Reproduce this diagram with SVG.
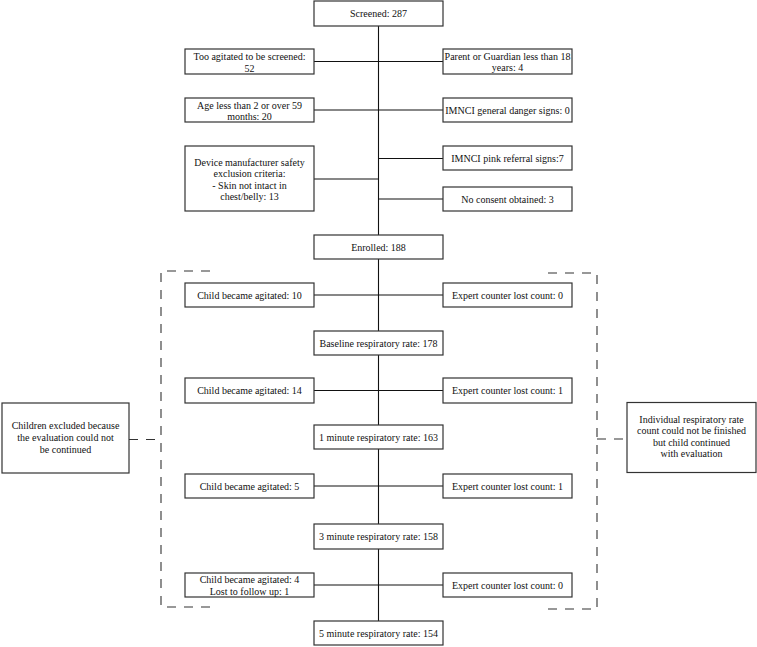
<svg xmlns="http://www.w3.org/2000/svg" width="757" height="647" viewBox="0 0 757 647">
<style>
.b{fill:#fff;stroke:#333;stroke-width:1.2}
.t{font-family:"Liberation Serif","Times New Roman",serif;font-size:10px;fill:#111;text-anchor:middle}
.c{stroke:#111;stroke-width:1.1;fill:none}
.d{stroke:#333;stroke-width:1.1;fill:none;stroke-dasharray:9 8}
</style>
<rect width="757" height="647" fill="#fff"/>
<g id="connectors">
<path class="c" d="M378.5 26V235M378.5 259V331M378.5 355V425M378.5 449V524M378.5 549V621"/>
<path class="c" d="M314 61.5H443M314 110H443M314 179H378.5M378.5 158.5H443M378.5 199H443"/>
<path class="c" d="M314 295H443M314 390.5H443M314 486H443M314 585H443"/>
<path class="d" d="M210 271H161V607H210"/>
<path class="d" d="M548 273H597V609H548"/>
<path class="d" d="M129 439.5H161M597 439H627"/>
</g>
<g id="screened"><rect class="b" x="314" y="1" width="129" height="25"/><text class="t" x="378.5" y="17">Screened: 287</text></g>
<g id="too-agitated"><rect class="b" x="185" y="49" width="129" height="25"/><text class="t" x="249.5" y="60">Too agitated to be screened:</text><text class="t" x="249.5" y="71.5">52</text></g>
<g id="parent"><rect class="b" x="443" y="49" width="129" height="25"/><text class="t" x="507.5" y="59.5">Parent or Guardian less than 18</text><text class="t" x="507.5" y="71">years: 4</text></g>
<g id="age"><rect class="b" x="185" y="98" width="129" height="24"/><text class="t" x="249.5" y="108.5">Age less than 2 or over 59</text><text class="t" x="249.5" y="120">months: 20</text></g>
<g id="imnci-general"><rect class="b" x="443" y="98" width="129" height="24"/><text class="t" x="507.5" y="113.5">IMNCI general danger signs: 0</text></g>
<g id="device"><rect class="b" x="185" y="146" width="129" height="65"/><text class="t" x="249.5" y="165.5">Device manufacturer safety</text><text class="t" x="249.5" y="177">exclusion criteria:</text><text class="t" x="249.5" y="188.5">- Skin not intact in</text><text class="t" x="249.5" y="200">chest/belly: 13</text></g>
<g id="imnci-pink"><rect class="b" x="443" y="146" width="129" height="24"/><text class="t" x="507.5" y="161.5">IMNCI pink referral signs:7</text></g>
<g id="no-consent"><rect class="b" x="443" y="187" width="129" height="24"/><text class="t" x="507.5" y="202.5">No consent obtained: 3</text></g>
<g id="enrolled"><rect class="b" x="314" y="235" width="129" height="24"/><text class="t" x="378.5" y="250.5">Enrolled: 188</text></g>
<g id="agitated-1"><rect class="b" x="185" y="283" width="129" height="24"/><text class="t" x="249.5" y="298.5">Child became agitated: 10</text></g>
<g id="lost-1"><rect class="b" x="443" y="283" width="129" height="24"/><text class="t" x="507.5" y="298.5">Expert counter lost count: 0</text></g>
<g id="baseline"><rect class="b" x="314" y="331" width="129" height="24"/><text class="t" x="378.5" y="346.5">Baseline respiratory rate: 178</text></g>
<g id="agitated-2"><rect class="b" x="185" y="378" width="129" height="25"/><text class="t" x="249.5" y="394">Child became agitated: 14</text></g>
<g id="lost-2"><rect class="b" x="443" y="378" width="129" height="25"/><text class="t" x="507.5" y="394">Expert counter lost count: 1</text></g>
<g id="min1"><rect class="b" x="314" y="425" width="129" height="24"/><text class="t" x="378.5" y="440.5">1 minute respiratory rate: 163</text></g>
<g id="agitated-3"><rect class="b" x="185" y="474" width="129" height="24"/><text class="t" x="249.5" y="489.5">Child became agitated: 5</text></g>
<g id="lost-3"><rect class="b" x="443" y="474" width="129" height="24"/><text class="t" x="507.5" y="489.5">Expert counter lost count: 1</text></g>
<g id="min3"><rect class="b" x="314" y="524" width="129" height="25"/><text class="t" x="378.5" y="540">3 minute respiratory rate: 158</text></g>
<g id="agitated-4"><rect class="b" x="185" y="573" width="129" height="24"/><text class="t" x="249.5" y="583">Child became agitated: 4</text><text class="t" x="249.5" y="594.5">Lost to follow up: 1</text></g>
<g id="lost-4"><rect class="b" x="443" y="573" width="129" height="24"/><text class="t" x="507.5" y="588.5">Expert counter lost count: 0</text></g>
<g id="min5"><rect class="b" x="314" y="621" width="129" height="24"/><text class="t" x="378.5" y="636.5">5 minute respiratory rate: 154</text></g>
<g id="excluded"><rect class="b" x="2" y="403" width="127" height="70"/><text class="t" x="65.5" y="428.5">Children excluded because</text><text class="t" x="65.5" y="440.5">the evaluation could not</text><text class="t" x="65.5" y="452.5">be continued</text></g>
<g id="individual"><rect class="b" x="627" y="402.5" width="129" height="70"/><text class="t" x="691.5" y="422.5">Individual respiratory rate</text><text class="t" x="691.5" y="434">count could not be finished</text><text class="t" x="691.5" y="445.5">but child continued</text><text class="t" x="691.5" y="457">with evaluation</text></g>
</svg>
